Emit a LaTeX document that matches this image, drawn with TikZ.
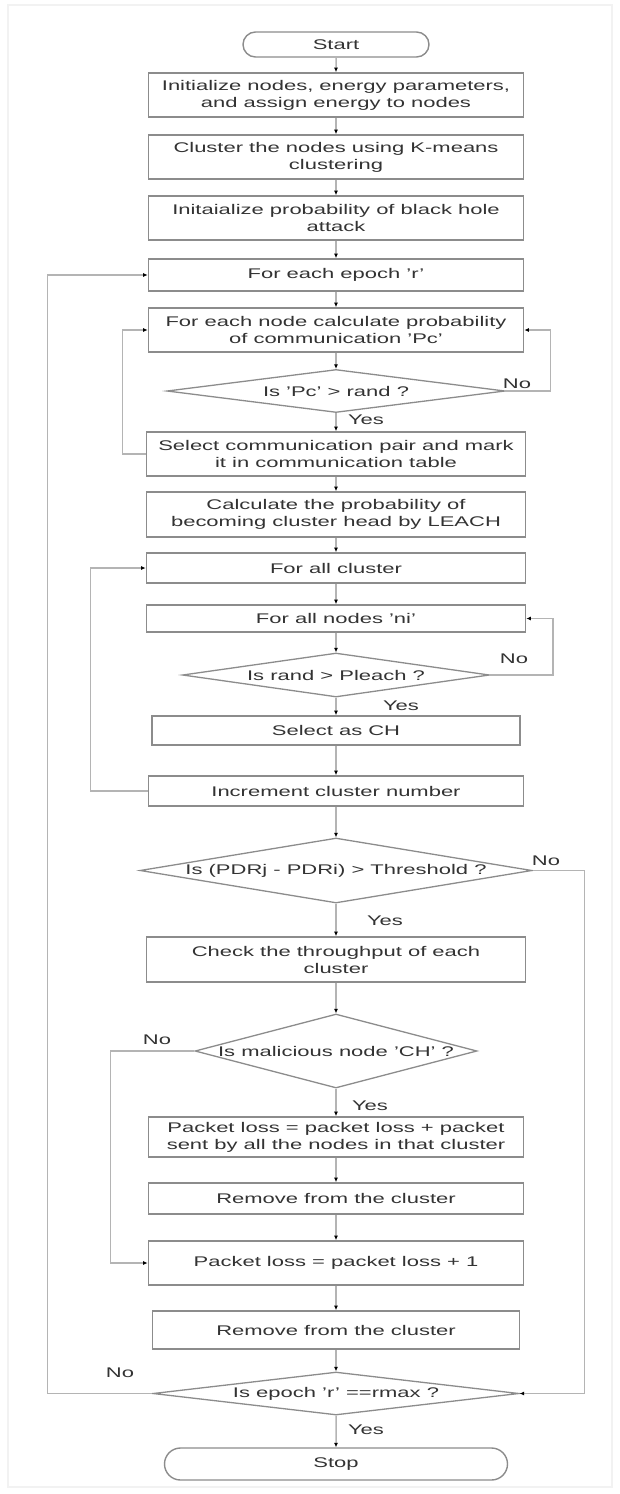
\documentclass[tikz,border=0pt]{standalone}
\usepackage{fontspec}
\setmainfont{Liberation Sans}[FakeStretch=1.57]
\usetikzlibrary{arrows.meta,shapes.geometric,shapes.misc}
\definecolor{txt}{HTML}{333333}
\definecolor{bord}{HTML}{8C8C8C}
\definecolor{ln}{HTML}{B4B4B4}
\definecolor{frame}{HTML}{F2F2F2}
\begin{document}
\begin{tikzpicture}[x=1pt,y=-1pt,
  every node/.style={font=\fontsize{14}{17}\selectfont, text=txt},
  box/.style={draw=bord, line width=1.7pt, rectangle, inner sep=0pt, align=center, minimum width=375pt},
  term/.style={draw=bord, line width=1.4pt, rounded rectangle, inner sep=0pt},
  dec/.style={draw=bord, line width=1.3pt, diamond, inner sep=0pt},
  flow/.style={draw=ln, line width=1.5pt, -{Latex[length=4.5pt,width=4pt,black]}},
  lbl/.style={inner sep=0pt}
]
\useasboundingbox (0,0) rectangle (620,1494);
\fill[white] (0,0) rectangle (620,1494);
\draw[frame, line width=1.5pt] (8,5) rectangle (612,1487);

\node[term, minimum width=186pt, minimum height=25pt] (start) at (336,44.5) {Start};
\node[box, minimum height=44pt] (b1) at (336,95) {Initialize nodes, energy parameters,\\and assign energy to nodes};
\node[box, minimum height=44pt] (b2) at (336,157) {Cluster the nodes using K-means\\clustering};
\node[box, minimum height=44pt] (b3) at (336,218) {Initaialize probability of black hole\\attack};
\node[box, minimum height=32pt] (b4) at (336,275) {For each epoch 'r'};
\node[box, minimum height=44pt] (b5) at (336,330) {For each node calculate probability\\of communication 'Pc'};
\node[dec, minimum width=338pt, minimum height=43pt] (d1) at (336,391) {};
\node[lbl] (d1t) at (d1) {Is 'Pc' > rand ?};
\node[box, minimum width=379pt, minimum height=44pt] (b6) at (336,454) {Select communication pair and mark\\it in communication table};
\node[box, minimum width=379pt, minimum height=45pt] (b7) at (336,514.5) {Calculate the probability of\\becoming cluster head by LEACH};
\node[box, minimum width=379pt, minimum height=30pt] (b8) at (336,568) {For all cluster};
\node[box, minimum width=379pt, minimum height=27pt] (b9) at (336,618.5) {For all nodes 'ni'};
\node[dec, minimum width=307pt, minimum height=44pt] (d2) at (336,675) {};
\node[lbl] (d2t) at (d2) {Is rand > Pleach ?};
\node[box, minimum width=368pt, minimum height=29pt] (b10) at (336,730.5) {Select as CH};
\node[box, minimum height=30pt] (b11) at (336,791) {Increment cluster number};
\node[dec, minimum width=392pt, minimum height=65pt] (d3) at (336,870.5) {};
\node[lbl] (d3t) at (d3) {Is (PDRj - PDRi) > Threshold ?};
\node[box, minimum width=379pt, minimum height=45pt] (b12) at (336,959.5) {Check the throughput of each\\cluster};
\node[dec, minimum width=282pt, minimum height=74pt] (d4) at (336,1051) {};
\node[lbl] (d4t) at (d4) {Is malicious node 'CH' ?};
\node[box, minimum height=40pt] (b13) at (336,1137) {Packet loss = packet loss + packet\\sent by all the nodes in that cluster};
\node[box, minimum height=31pt] (b14) at (336,1198.5) {Remove from the cluster};
\node[box, minimum height=44pt] (b15) at (336,1263) {Packet loss = packet loss + 1};
\node[box, minimum width=367pt, minimum height=38pt] (b16) at (336,1330) {Remove from the cluster};
\node[dec, minimum width=366pt, minimum height=43pt] (d5) at (336,1393.5) {};
\node[lbl] (d5t) at (d5) {Is epoch 'r' ==rmax ?};
\node[term, minimum width=343pt, minimum height=32pt] (stop) at (336,1464) {Stop};

% main flow
\draw[flow] (start) -- (b1);
\draw[flow] (b1) -- (b2);
\draw[flow] (b2) -- (b3);
\draw[flow] (b3) -- (b4);
\draw[flow] (b4) -- (b5);
\draw[flow] (b5) -- (d1);
\draw[flow] (d1) -- (b6);
\draw[flow] (b6) -- (b7);
\draw[flow] (b7) -- (b8);
\draw[flow] (b8) -- (b9);
\draw[flow] (b9) -- (d2);
\draw[flow] (d2) -- (b10);
\draw[flow] (b10) -- (b11);
\draw[flow] (b11) -- (d3);
\draw[flow] (d3) -- (b12);
\draw[flow] (b12) -- (d4);
\draw[flow] (d4) -- (b13);
\draw[flow] (b13) -- (b14);
\draw[flow] (b14) -- (b15);
\draw[flow] (b15) -- (b16);
\draw[flow] (b16) -- (d5);
\draw[flow] (d5) -- (stop);

% loops
\draw[flow] (d1.east) -- ++(45,0) |- (b5.east);
\draw[flow] (b6.west) -- ++(-23,0) |- (b5.west);
\draw[flow] (d2.east) -- ++(63,0) |- (b9.east);
\draw[flow] (b11.west) -- ++(-57,0) |- (b8.west);
\draw[flow] (d3.east) -- ++(52,0) |- (d5.east);
\draw[flow] (d4.west) -- ++(-84,0) |- (b15.west);
\draw[flow] (d5.west) -- ++(-105,0) |- (b4.west);

% labels
\node[lbl] (y1) at (366,420) {Yes};
\node[lbl] (n1) at (517,384) {No};
\node[lbl] (y2) at (401,706) {Yes};
\node[lbl] (n2) at (514,659) {No};
\node[lbl] (y3) at (385,921) {Yes};
\node[lbl] (n3) at (546,861) {No};
\node[lbl] (y4) at (370,1106) {Yes};
\node[lbl] (n4) at (157,1040) {No};
\node[lbl] (y5) at (366,1430) {Yes};
\node[lbl] (n5) at (120,1373) {No};
\end{tikzpicture}
\end{document}
